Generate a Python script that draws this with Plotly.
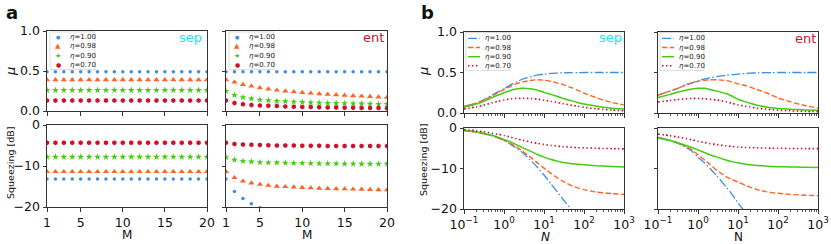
import plotly.graph_objects as go

# ---------------- data ----------------
M = list(range(1, 21))
eta_labels = ["<i>η</i>=1.00", "<i>η</i>=0.98", "<i>η</i>=0.90", "<i>η</i>=0.70"]

# panel a, "sep": mu vs M
mu_sep_100 = [0.49, 0.49, 0.49, 0.49, 0.49, 0.49, 0.49, 0.49, 0.49, 0.49, 0.49, 0.49, 0.49, 0.49, 0.49, 0.49, 0.49, 0.49, 0.49, 0.49]
mu_sep_098 = [0.39, 0.39, 0.39, 0.39, 0.39, 0.39, 0.39, 0.39, 0.39, 0.39, 0.39, 0.39, 0.39, 0.39, 0.39, 0.39, 0.39, 0.39, 0.39, 0.39]
mu_sep_090 = [0.26, 0.26, 0.26, 0.26, 0.26, 0.26, 0.26, 0.26, 0.26, 0.26, 0.26, 0.26, 0.26, 0.26, 0.26, 0.26, 0.26, 0.26, 0.26, 0.26]
mu_sep_070 = [0.13, 0.13, 0.13, 0.13, 0.13, 0.13, 0.13, 0.13, 0.13, 0.13, 0.13, 0.13, 0.13, 0.13, 0.13, 0.13, 0.13, 0.13, 0.13, 0.13]
# panel a, "sep": squeezing vs M
sq_sep_100 = [-13.2, -13.2, -13.2, -13.2, -13.2, -13.2, -13.2, -13.2, -13.2, -13.2, -13.2, -13.2, -13.2, -13.2, -13.2, -13.2, -13.2, -13.2, -13.2, -13.2]
sq_sep_098 = [-11.4, -11.4, -11.4, -11.4, -11.4, -11.4, -11.4, -11.4, -11.4, -11.4, -11.4, -11.4, -11.4, -11.4, -11.4, -11.4, -11.4, -11.4, -11.4, -11.4]
sq_sep_090 = [-7.8, -7.8, -7.8, -7.8, -7.8, -7.8, -7.8, -7.8, -7.8, -7.8, -7.8, -7.8, -7.8, -7.8, -7.8, -7.8, -7.8, -7.8, -7.8, -7.8]
sq_sep_070 = [-4.3, -4.3, -4.3, -4.3, -4.3, -4.3, -4.3, -4.3, -4.3, -4.3, -4.3, -4.3, -4.3, -4.3, -4.3, -4.3, -4.3, -4.3, -4.3, -4.3]

# panel a, "ent": mu vs M
mu_ent_100 = [0.49, 0.49, 0.49, 0.49, 0.49, 0.49, 0.49, 0.49, 0.49, 0.49, 0.49, 0.49, 0.49, 0.49, 0.49, 0.49, 0.49, 0.49, 0.49, 0.49]
mu_ent_098 = [0.39, 0.36, 0.33, 0.31, 0.29, 0.275, 0.26, 0.25, 0.24, 0.23, 0.222, 0.215, 0.208, 0.202, 0.196, 0.19, 0.185, 0.18, 0.175, 0.17]
mu_ent_090 = [0.25, 0.20, 0.17, 0.155, 0.14, 0.132, 0.125, 0.12, 0.115, 0.11, 0.106, 0.103, 0.10, 0.097, 0.095, 0.093, 0.091, 0.089, 0.087, 0.085]
mu_ent_070 = [0.13, 0.10, 0.085, 0.075, 0.07, 0.065, 0.061, 0.057, 0.054, 0.051, 0.049, 0.047, 0.045, 0.043, 0.042, 0.04, 0.039, 0.038, 0.036, 0.035]
# panel a, "ent": squeezing vs M
sq_ent_100 = [-13.2, -16.2, -17.9, -19.2, -20.2, -21.0, -21.6, -22.2, -22.7, -23.2, -23.6, -24.0, -24.3, -24.7, -25.0, -25.2, -25.5, -25.8, -26.0, -26.2]
sq_ent_098 = [-11.4, -12.85, -13.7, -14.15, -14.5, -14.75, -14.95, -15.05, -15.15, -15.25, -15.35, -15.45, -15.5, -15.55, -15.6, -15.65, -15.7, -15.75, -15.8, -15.85]
sq_ent_090 = [-7.9, -8.5, -8.8, -8.95, -9.1, -9.15, -9.2, -9.25, -9.3, -9.3, -9.35, -9.4, -9.4, -9.4, -9.45, -9.45, -9.5, -9.5, -9.5, -9.5]
sq_ent_070 = [-4.3, -4.65, -4.75, -4.8, -4.9, -4.95, -5.0, -5.0, -5.0, -5.05, -5.05, -5.05, -5.1, -5.1, -5.1, -5.1, -5.1, -5.1, -5.12, -5.12]

# panel b: functions of N (log axis)
N = [0.1, 0.2, 0.3, 0.5, 0.7, 1, 1.5, 2, 3, 5, 7, 10, 15, 20, 30, 50, 70, 100, 200, 300, 500, 1000]
mub_sep_100 = [0.08, 0.12, 0.16, 0.22, 0.26, 0.30, 0.35, 0.38, 0.42, 0.45, 0.47, 0.48, 0.488, 0.493, 0.496, 0.498, 0.499, 0.5, 0.5, 0.5, 0.5, 0.5]
mub_sep_098 = [0.08, 0.12, 0.155, 0.21, 0.25, 0.29, 0.33, 0.36, 0.385, 0.405, 0.41, 0.405, 0.39, 0.375, 0.35, 0.31, 0.28, 0.245, 0.19, 0.16, 0.13, 0.10]
mub_sep_090 = [0.07, 0.11, 0.14, 0.19, 0.22, 0.25, 0.28, 0.295, 0.305, 0.295, 0.28, 0.255, 0.23, 0.21, 0.18, 0.15, 0.13, 0.11, 0.085, 0.072, 0.06, 0.05]
mub_sep_070 = [0.05, 0.075, 0.095, 0.125, 0.145, 0.16, 0.175, 0.18, 0.183, 0.178, 0.17, 0.158, 0.143, 0.132, 0.115, 0.095, 0.083, 0.07, 0.053, 0.045, 0.036, 0.028]

sqb_sep_100 = [-0.6, -1.0, -1.35, -1.95, -2.45, -3.1, -4.1, -4.9, -6.2, -8.3, -9.8, -11.6, -13.8, -15.4, -17.6, -20.3, -22.1, -24.0, -27.8, -30.0, -32.8, -36.6]
sqb_sep_098 = [-0.6, -1.0, -1.35, -1.9, -2.4, -3.0, -3.9, -4.6, -5.8, -7.5, -8.7, -9.9, -11.2, -12.1, -13.2, -14.3, -14.8, -15.2, -15.8, -16.0, -16.2, -16.4]
sqb_sep_090 = [-0.6, -0.95, -1.3, -1.8, -2.25, -2.8, -3.5, -4.1, -4.9, -5.9, -6.6, -7.2, -7.8, -8.1, -8.5, -8.8, -8.95, -9.05, -9.3, -9.4, -9.5, -9.6]
sqb_sep_070 = [-0.4, -0.7, -0.9, -1.3, -1.55, -1.85, -2.3, -2.65, -3.05, -3.55, -3.8, -4.05, -4.3, -4.45, -4.6, -4.75, -4.85, -4.9, -5.0, -5.05, -5.1, -5.15]

mub_ent_100 = [0.22, 0.27, 0.30, 0.35, 0.37, 0.40, 0.42, 0.435, 0.45, 0.465, 0.475, 0.48, 0.488, 0.492, 0.495, 0.498, 0.499, 0.5, 0.5, 0.5, 0.5, 0.5]
mub_ent_098 = [0.22, 0.27, 0.30, 0.345, 0.37, 0.39, 0.405, 0.41, 0.41, 0.40, 0.385, 0.36, 0.34, 0.32, 0.29, 0.25, 0.22, 0.185, 0.14, 0.115, 0.09, 0.06]
mub_ent_090 = [0.19, 0.23, 0.255, 0.28, 0.295, 0.305, 0.305, 0.29, 0.27, 0.24, 0.21, 0.17, 0.14, 0.12, 0.095, 0.075, 0.065, 0.057, 0.047, 0.042, 0.037, 0.033]
mub_ent_070 = [0.135, 0.155, 0.165, 0.175, 0.18, 0.18, 0.175, 0.17, 0.16, 0.14, 0.12, 0.10, 0.085, 0.075, 0.06, 0.048, 0.042, 0.035, 0.027, 0.023, 0.02, 0.017]

sqb_ent_100 = [-2.3, -3.1, -3.7, -4.8, -5.7, -7.2, -8.7, -10.0, -11.9, -14.5, -16.3, -18.5, -20.7, -22.2, -24.3, -27.0, -28.8, -30.7, -34.4, -36.6, -39.4, -43.2]
sqb_ent_098 = [-2.3, -3.0, -3.6, -4.6, -5.4, -6.6, -8.0, -9.0, -10.5, -12.0, -12.7, -13.3, -14.1, -14.6, -15.2, -15.7, -15.95, -16.1, -16.4, -16.5, -16.6, -16.7]
sqb_ent_090 = [-2.5, -3.1, -3.6, -4.3, -4.8, -5.4, -6.1, -6.6, -7.2, -7.9, -8.3, -8.6, -8.9, -9.1, -9.25, -9.4, -9.5, -9.55, -9.6, -9.65, -9.7, -9.75]
sqb_ent_070 = [-1.5, -1.9, -2.2, -2.6, -2.9, -3.3, -3.6, -3.85, -4.1, -4.4, -4.55, -4.7, -4.8, -4.85, -4.9, -4.95, -5.0, -5.0, -5.05, -5.05, -5.1, -5.1]

# tick labels
a_x_ticks = [1, 5, 10, 15, 20]
mu_ticks = [0.0, 0.5, 1.0]
mu_tick_text = ["0.0", "0.5", "1.0"]
sq_ticks = [-20, -10, 0]
sq_tick_text = ["−20", "−10", "0"]
b_x_ticks = [0.1, 1, 10, 100, 1000]
b_x_tick_text = ["10<sup>−1</sup>", "10<sup>0</sup>", "10<sup>1</sup>", "10<sup>2</sup>", "10<sup>3</sup>"]

# ---------------- styles ----------------
W, H = 831, 244
FONT = "DejaVu Sans"
colors = ["#3a8fe0", "#ff6426", "#44cc11", "#d0102a"]
symbols = ["circle", "triangle-up", "star", "hexagon"]
sizes = [3.5, 5.5, 5.2, 5]
dashes = ["9px,2.4px,1.5px,2.4px", "5.5px,2.4px", "solid", "1.5px,2.5px"]
widths = [1.3, 1.4, 1.5, 1.6]
legend_glyphs = ["●", "▲", "★", "●"]
legend_glyph_sizes = [5, 7, 7, 6]
SEP_COLOR = "#19e6f5"
ENT_COLOR = "#cc1133"


def px_x(x):
    return x / W


def px_y(y):
    return 1 - y / H


fig = go.Figure()

# ---- panel a markers
a_sets = [
    ("x", "y", [mu_sep_100, mu_sep_098, mu_sep_090, mu_sep_070]),
    ("x2", "y2", [sq_sep_100, sq_sep_098, sq_sep_090, sq_sep_070]),
    ("x3", "y3", [mu_ent_100, mu_ent_098, mu_ent_090, mu_ent_070]),
    ("x4", "y4", [sq_ent_100, sq_ent_098, sq_ent_090, sq_ent_070]),
]
for xa, ya, series in a_sets:
    for i, s in enumerate(series):
        fig.add_trace(go.Scatter(
            x=M, y=s, xaxis=xa, yaxis=ya, mode="markers", name=eta_labels[i],
            showlegend=False,
            marker=dict(symbol=symbols[i], size=sizes[i], color=colors[i], line=dict(width=0)),
        ))

# ---- panel b lines
b_sets = [
    ("x5", "y5", [mub_sep_100, mub_sep_098, mub_sep_090, mub_sep_070]),
    ("x6", "y6", [sqb_sep_100, sqb_sep_098, sqb_sep_090, sqb_sep_070]),
    ("x7", "y7", [mub_ent_100, mub_ent_098, mub_ent_090, mub_ent_070]),
    ("x8", "y8", [sqb_ent_100, sqb_ent_098, sqb_ent_090, sqb_ent_070]),
]
for xa, ya, series in b_sets:
    for i, s in enumerate(series):
        fig.add_trace(go.Scatter(
            x=N, y=s, xaxis=xa, yaxis=ya, mode="lines", name=eta_labels[i],
            showlegend=False,
            line=dict(color=colors[i], width=widths[i], dash=dashes[i], shape="spline", smoothing=0.6),
        ))

# ---- axes
common = dict(showline=True, linecolor="#333333", linewidth=1, mirror=True,
              ticks="outside", ticklen=3.5, tickwidth=1, tickcolor="#333333",
              showgrid=False, zeroline=False, automargin=False,
              tickfont=dict(family=FONT, size=12.5, color="#111111"))

aL = [px_x(47), px_x(207)]
aR = [px_x(226), px_x(387)]
bL = [px_x(464), px_x(624)]
bR = [px_x(658), px_x(818)]
a_top = [px_y(111), px_y(31)]
a_bot = [px_y(207), px_y(125)]
b_top = [px_y(113), px_y(32)]
b_bot = [px_y(209), px_y(128)]

layout_axes = {}
# panel a
for k, (xd, yd, top, showy) in enumerate([
    (aL, a_top, True, True), (aL, a_bot, False, True),
    (aR, a_top, True, False), (aR, a_bot, False, False)]):
    n = k + 1
    xs = "xaxis" if n == 1 else f"xaxis{n}"
    ys = "yaxis" if n == 1 else f"yaxis{n}"
    yname = "y" if n == 1 else f"y{n}"
    xname = "x" if n == 1 else f"x{n}"
    layout_axes[xs] = dict(common, domain=xd, anchor=yname, range=[1, 20],
                           tickmode="array", tickvals=a_x_ticks,
                           showticklabels=not top)
    if top:
        layout_axes[ys] = dict(common, domain=yd, anchor=xname, range=[0, 1],
                               tickmode="array", tickvals=mu_ticks, ticktext=mu_tick_text,
                               showticklabels=showy)
    else:
        layout_axes[ys] = dict(common, domain=yd, anchor=xname, range=[-20, 0],
                               tickmode="array", tickvals=sq_ticks, ticktext=sq_tick_text,
                               showticklabels=showy)
# panel b
for k, (xd, yd, top, showy) in enumerate([
    (bL, b_top, True, True), (bL, b_bot, False, True),
    (bR, b_top, True, False), (bR, b_bot, False, False)]):
    n = k + 5
    layout_axes[f"xaxis{n}"] = dict(common, domain=xd, anchor=f"y{n}", type="log", range=[-1, 3],
                                    tickmode="array", tickvals=b_x_ticks, ticktext=b_x_tick_text,
                                    showticklabels=not top,
                                    minor=dict(ticks="outside", ticklen=2, tickwidth=0.8,
                                               tickcolor="#555555", dtick="D1", showgrid=False))
    if top:
        layout_axes[f"yaxis{n}"] = dict(common, domain=yd, anchor=f"x{n}", range=[0, 1],
                                        tickmode="array", tickvals=mu_ticks, ticktext=mu_tick_text,
                                        showticklabels=showy)
    else:
        layout_axes[f"yaxis{n}"] = dict(common, domain=yd, anchor=f"x{n}", range=[-20, 0],
                                        tickmode="array", tickvals=sq_ticks, ticktext=sq_tick_text,
                                        showticklabels=showy)

# ---- text annotations
ann = []


def text(x, y, t, size, color="#111111", angle=0, xanchor="center", yanchor="middle"):
    ann.append(dict(x=px_x(x), y=px_y(y), xref="paper", yref="paper", text=t, showarrow=False,
                    textangle=angle, xanchor=xanchor, yanchor=yanchor, borderpad=0,
                    font=dict(family=FONT, size=size, color=color)))


text(12, 12, "<b>a</b>", 18)
text(427, 12, "<b>b</b>", 18)
text(10, 72, "<i>μ</i>", 13, angle=-90)
text(423, 72, "<i>μ</i>", 13, angle=-90)
text(10, 163, "Squeezing [dB]", 9.5, angle=-90)
text(423, 160, "Squeezing [dB]", 9.5, angle=-90)
text(127, 226.5, "M", 12, yanchor="top")
text(307, 226.5, "M", 12, yanchor="top")
text(545, 228.5, "<i>N</i>", 12, yanchor="top")
text(738, 228.5, "N", 12, yanchor="top")
text(203, 37, "sep", 13, color=SEP_COLOR, xanchor="right")
text(385, 37, "ent", 13, color=ENT_COLOR, xanchor="right")
text(623, 37, "sep", 13, color=SEP_COLOR, xanchor="right")
text(817, 38, "ent", 13, color=ENT_COLOR, xanchor="right")

# ---- legends (guide boxes)
shapes = []
row_y = [37.5, 46.5, 55.5, 64.5]
for x0 in (50, 229):
    shapes.append(dict(type="rect", xref="paper", yref="paper", x0=px_x(x0), x1=px_x(x0 + 45),
                       y0=px_y(69.5), y1=px_y(32), line=dict(color="#d4d4d4", width=0.8),
                       fillcolor="rgba(255,255,255,0.8)", layer="above"))
    for i in range(4):
        text(x0 + 8, row_y[i], legend_glyphs[i], legend_glyph_sizes[i], color=colors[i])
        text(x0 + 19, row_y[i], eta_labels[i], 7, color="#222222", xanchor="left")

row_yb = [38.3, 47.5, 56.7, 65.8]
for x0 in (466, 660):
    shapes.append(dict(type="rect", xref="paper", yref="paper", x0=px_x(x0), x1=px_x(x0 + 44),
                       y0=px_y(70.5), y1=px_y(32.5), line=dict(color="#d4d4d4", width=0.8),
                       fillcolor="rgba(255,255,255,0.8)", layer="above"))
    for i in range(4):
        shapes.append(dict(type="line", xref="paper", yref="paper",
                           x0=px_x(x0 + 2), x1=px_x(x0 + 14), y0=px_y(row_yb[i]), y1=px_y(row_yb[i]),
                           line=dict(color=colors[i], width=widths[i], dash=dashes[i]), layer="above"))
        text(x0 + 18, row_yb[i], eta_labels[i], 7, color="#222222", xanchor="left")

fig.update_layout(
    width=W, height=H, margin=dict(l=0, r=0, t=0, b=0),
    paper_bgcolor="white", plot_bgcolor="white",
    showlegend=False, annotations=ann, shapes=shapes,
    font=dict(family=FONT),
    **layout_axes,
)

fig.write_html("out.html", config={"displayModeBar": False},
               post_script="document.body.style.margin='0px';document.body.style.overflow='hidden';")
